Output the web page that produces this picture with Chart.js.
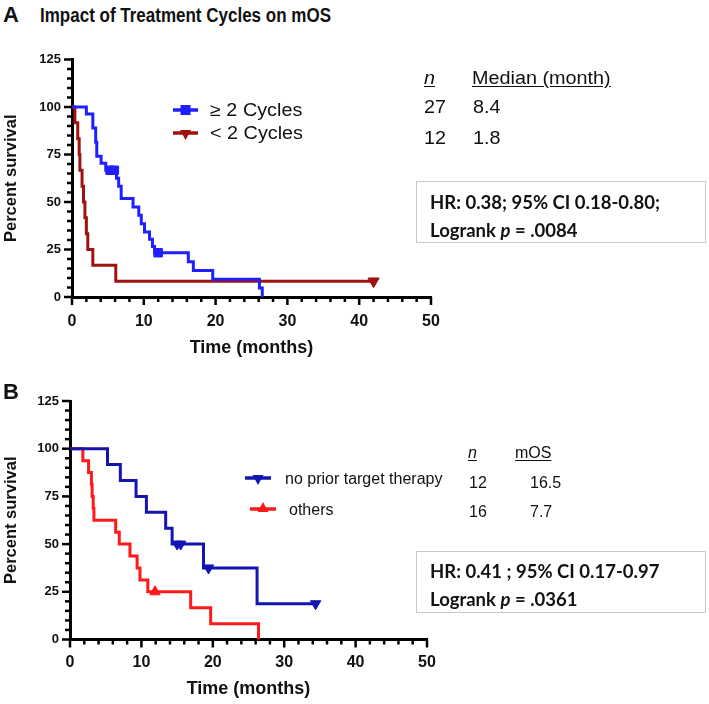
<!DOCTYPE html>
<html><head><meta charset="utf-8">
<script src="https://cdn.jsdelivr.net/npm/chart.js@4.4.1/dist/chart.umd.min.js"></script>
<style>
html,body{margin:0;padding:0;background:#fff;}
body{width:709px;height:704px;position:relative;overflow:hidden;font-family:"Liberation Sans",Arial,sans-serif;color:#111;}
canvas{position:absolute;left:0;}
.t{position:absolute;white-space:nowrap;line-height:1;transform:translateY(-50%);transform-origin:0 50%;}
.lg{font-size:18px;transform:translateY(-50%) scaleX(1.1);}
.lgb{font-size:16px;}
.u{text-decoration:underline;text-underline-offset:2px;}
.box{position:absolute;border:1.5px solid #c9c9c9;background:#fff;}
.bx{font-family:Lato,"Open Sans",sans-serif;font-weight:bold;font-size:18.5px;color:#111;}
</style></head><body>
<canvas id="cA" width="460" height="323" style="top:40px"></canvas>
<canvas id="cB" width="460" height="319" style="top:385px"></canvas>

<div class="t" style="left:3px;top:15px;font-weight:bold;font-size:22px;">A</div>
<div class="t" style="left:40px;top:15px;font-weight:bold;font-size:20px;transform:translateY(-50%) scaleX(0.85);">Impact of Treatment Cycles on mOS</div>
<div class="t" style="left:3px;top:392px;font-weight:bold;font-size:22px;">B</div>

<svg id="leg" width="709" height="704" style="position:absolute;left:0;top:0;pointer-events:none"></svg>

<div class="t lg" style="left:210px;top:110px;">≥ 2 Cycles</div>
<div class="t lg" style="left:210px;top:133px;">&lt; 2 Cycles</div>

<div class="t lg u" style="left:424px;top:78px;font-style:italic;">n</div>
<div class="t lg u" style="left:472px;top:78px;">Median (month)</div>
<div class="t lg" style="left:424px;top:107px;">27</div>
<div class="t lg" style="left:473px;top:107px;">8.4</div>
<div class="t lg" style="left:424px;top:138px;">12</div>
<div class="t lg" style="left:473px;top:138px;">1.8</div>

<div class="box" style="left:416px;top:181px;width:288px;height:60px;"></div>
<div class="t bx" style="left:430px;top:202px;">HR: 0.38; 95% CI 0.18-0.80;</div>
<div class="t bx" style="left:430px;top:230px;">Logrank <i>p</i> = .0084</div>

<div class="t lgb" style="left:285px;top:479px;">no prior target therapy</div>
<div class="t lgb" style="left:289px;top:510px;">others</div>
<div class="t lgb u" style="left:468px;top:453px;font-style:italic;">n</div>
<div class="t lgb u" style="left:515px;top:453px;">mOS</div>
<div class="t lgb" style="left:469px;top:483px;">12</div>
<div class="t lgb" style="left:530px;top:483px;">16.5</div>
<div class="t lgb" style="left:469px;top:512px;">16</div>
<div class="t lgb" style="left:530px;top:512px;">7.7</div>

<div class="box" style="left:416px;top:551px;width:288px;height:60px;"></div>
<div class="t bx" style="left:430px;top:571px;">HR: 0.41 ; 95% CI 0.17-0.97</div>
<div class="t bx" style="left:430px;top:599px;">Logrank <i>p</i> = .0361</div>

<script>
// ---------- Panel A: Impact of treatment cycles ----------
const seriesA = ['≥ 2 Cycles', '< 2 Cycles'];
const timeA_ge2 = [0, 2.0, 2.9, 3.3, 3.45, 4.05, 4.7, 6.2, 6.5, 6.85, 8.5, 9.3, 9.65, 10.1, 10.8, 11.2, 11.5, 16.2, 16.9, 19.6, 26.1, 26.5];
const survA_ge2 = [100, 96.3, 88.9, 81.5, 74.1, 70.4, 66.7, 62.5, 58.3, 51.9, 47.4, 43.0, 38.6, 34.2, 30.4, 26.6, 23.3, 18.6, 14.0, 9.3, 4.7, 0];
const censTimeA_ge2 = [5.3, 5.9, 12.0];
const censSurvA_ge2 = [66.7, 66.7, 23.3];

const timeA_lt2 = [0, 0.4, 0.8, 1.0, 1.1, 1.4, 1.6, 1.8, 2.0, 2.2, 2.9, 6.1, 42];
const survA_lt2 = [100, 91.7, 83.3, 75, 66.7, 58.3, 50, 41.7, 33.3, 25, 16.7, 8.3, 8.3];
const censTimeA_lt2 = [42];
const censSurvA_lt2 = [8.3];

// ---------- Panel B: prior target therapy ----------
const seriesB = ['no prior target therapy', 'others'];
const timeB_np = [0, 5.25, 7.05, 9.25, 10.7, 13.4, 14.3, 18.7, 26.2, 34.4];
const survB_np = [100, 91.7, 83.3, 75, 66.7, 58.3, 50, 37.5, 18.75, 18.75];
const censTimeB_np = [15.0, 15.5, 19.4, 34.4];
const censSurvB_np = [50, 50, 37.5, 18.75];

const timeB_ot = [0, 1.8, 2.6, 3.0, 3.1, 3.25, 3.35, 6.4, 6.9, 8.4, 9.4, 9.8, 10.9, 16.9, 19.7, 26.4];
const survB_ot = [100, 93.75, 87.5, 81.25, 75, 68.75, 62.5, 56.25, 50, 43.75, 37.5, 31.25, 25, 16.7, 8.3, 0];
const censTimeB_ot = [11.9];
const censSurvB_ot = [25];

// axis tick values
const xTickLabels = [0, 10, 20, 30, 40, 50];
const yTickLabels = [0, 25, 50, 75, 100, 125];

const FONT = '"Liberation Sans", Arial, sans-serif';

const tickPlugin = {
  id: 'kmTicks',
  afterDraw(chart) {
    const ctx = chart.ctx, ca = chart.chartArea;
    const xs = chart.scales.x, ys = chart.scales.y;
    ctx.save();
    ctx.strokeStyle = '#000';
    ctx.lineWidth = 2.5;
    xs.ticks.forEach(t => {
      const px = xs.getPixelForValue(t.value);
      const len = xTickLabels.includes(t.value) ? 8 : 5;
      ctx.beginPath(); ctx.moveTo(px, ca.bottom); ctx.lineTo(px, ca.bottom + len); ctx.stroke();
    });
    ys.ticks.forEach(t => {
      const py = ys.getPixelForValue(t.value);
      const len = yTickLabels.includes(t.value) ? 8 : 5;
      ctx.beginPath(); ctx.moveTo(ca.left, py); ctx.lineTo(ca.left - len, py); ctx.stroke();
    });
    ctx.restore();
  }
};

function makeKM(id, cfg) {
  const datasets = [];
  cfg.series.forEach(s => {
    datasets.push({
      label: s.label, type: 'line',
      data: s.t.map((x, i) => ({x, y: s.s[i]})),
      borderColor: s.color, borderWidth: 3, stepped: true,
      pointRadius: 0, fill: false, clip: 6, order: 2
    });
    datasets.push({
      label: s.label + ' censored', type: 'scatter',
      data: s.ct.map((x, i) => ({x, y: s.cs[i]})),
      pointStyle: s.marker, rotation: s.rot, pointRadius: s.r,
      backgroundColor: s.color, borderColor: s.color, borderWidth: 1,
      clip: false, order: 1
    });
  });
  return new Chart(document.getElementById(id), {
    type: 'line',
    data: {datasets},
    options: {
      responsive: false, animation: false, events: [],
      layout: {padding: {top: cfg.padTop, right: cfg.padRight, left: 0, bottom: 0}},
      plugins: {legend: {display: false}, tooltip: {enabled: false}},
      scales: {
        x: {
          type: 'linear', min: 0, max: 50,
          afterFit: s => { s.height = cfg.xh; },
          ticks: {stepSize: 2, autoSkip: false, maxRotation: 0,
            callback: v => xTickLabels.includes(v) ? String(v) : '',
            font: {family: FONT, size: 16, weight: 'bold'}, color: '#111', padding: cfg.xpad},
          grid: {display: true, drawOnChartArea: false, tickLength: 8, tickColor: 'rgba(0,0,0,0)'},
          border: {display: true, color: '#000', width: 3},
          title: {display: true, text: 'Time (months)', color: '#111',
            font: {family: FONT, size: 18, weight: 'bold'}, padding: {top: 0, bottom: cfg.tpad}}
        },
        y: {
          type: 'linear', min: 0, max: 125,
          afterFit: s => { s.width = cfg.yw; },
          ticks: {stepSize: 5, autoSkip: false,
            callback: v => yTickLabels.includes(v) ? String(v) : '',
            font: {family: FONT, size: 13, weight: 'bold'}, color: '#111', padding: 3},
          grid: {display: true, drawOnChartArea: false, tickLength: 8, tickColor: 'rgba(0,0,0,0)'},
          border: {display: true, color: '#000', width: 3},
          title: {display: true, text: 'Percent survival', color: '#111',
            font: {family: FONT, size: 16.5, weight: 'bold'}, padding: {top: 2, bottom: 0}}
        }
      }
    },
    plugins: [tickPlugin]
  });
}

const colA1 = '#1f1fff', colA2 = '#a01212', colB1 = '#1414b0', colB2 = '#ff1a1a';

makeKM('cA', {
  padTop: 19.5, padRight: 29, xh: 66, yw: 72, xpad: 7, tpad: 4,
  series: [
    {label: seriesA[0], t: timeA_ge2, s: survA_ge2, ct: censTimeA_ge2, cs: censSurvA_ge2, color: colA1, marker: 'rect', rot: 0, r: 6},
    {label: seriesA[1], t: timeA_lt2, s: survA_lt2, ct: censTimeA_lt2, cs: censSurvA_lt2, color: colA2, marker: 'triangle', rot: 180, r: 6.5}
  ]
});
makeKM('cB', {
  padTop: 16, padRight: 33, xh: 64.5, yw: 70, xpad: 5, tpad: 4,
  series: [
    {label: seriesB[0], t: timeB_np, s: survB_np, ct: censTimeB_np, cs: censSurvB_np, color: colB1, marker: 'triangle', rot: 180, r: 6},
    {label: seriesB[1], t: timeB_ot, s: survB_ot, ct: censTimeB_ot, cs: censSurvB_ot, color: colB2, marker: 'triangle', rot: 0, r: 6}
  ]
});

// legend swatches (line + marker)
const svg = document.getElementById('leg');
function sw(x1, x2, y, color, shape) {
  const ns = 'http://www.w3.org/2000/svg';
  const l = document.createElementNS(ns, 'line');
  l.setAttribute('x1', x1); l.setAttribute('x2', x2); l.setAttribute('y1', y); l.setAttribute('y2', y);
  l.setAttribute('stroke', color); l.setAttribute('stroke-width', 3.5);
  svg.appendChild(l);
  const cx = (x1 + x2) / 2;
  let m;
  if (shape === 'rect') {
    m = document.createElementNS(ns, 'rect');
    m.setAttribute('x', cx - 5); m.setAttribute('y', y - 5); m.setAttribute('width', 10); m.setAttribute('height', 10);
  } else {
    m = document.createElementNS(ns, 'polygon');
    const pts = shape === 'down'
      ? [[cx - 5.5, y - 3], [cx + 5.5, y - 3], [cx, y + 7]]
      : [[cx - 5.5, y + 3], [cx + 5.5, y + 3], [cx, y - 7]];
    m.setAttribute('points', pts.map(p => p.join(',')).join(' '));
  }
  m.setAttribute('fill', color);
  svg.appendChild(m);
}
sw(173, 198, 110, colA1, 'rect');
sw(173, 198, 133, colA2, 'down');
sw(245, 271, 478, colB1, 'down');
sw(250, 276, 509, colB2, 'up');
</script>
</body></html>
